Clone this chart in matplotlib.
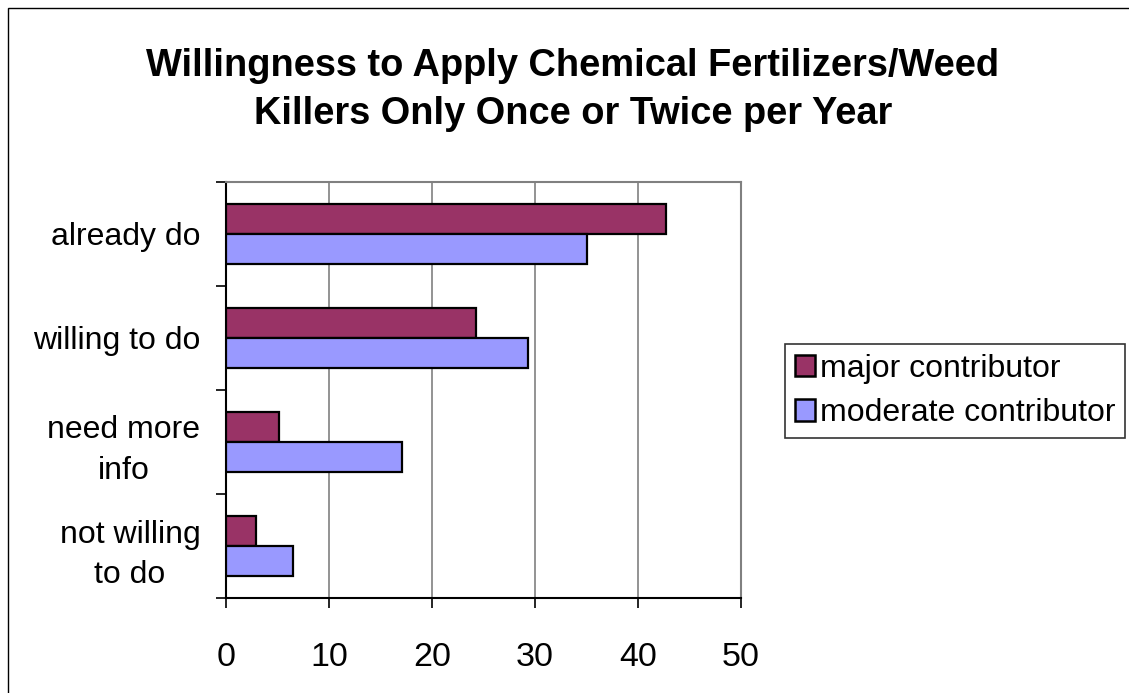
import matplotlib
matplotlib.use("Agg")
import matplotlib.pyplot as plt
import numpy as np
from matplotlib.patches import Rectangle

categories = ["already do", "willing to do", "need more\ninfo", "not willing\nto do"]
major = [42.7, 24.3, 5.1, 2.9]
moderate = [35.0, 29.3, 17.1, 6.5]
series_names = ["major contributor", "moderate contributor"]
colors = ["#993366", "#9999FF"]
xticks = [0, 10, 20, 30, 40, 50]
title = "Willingness to Apply Chemical Fertilizers/Weed\nKillers Only Once or Twice per Year"

plt.rcParams['font.family'] = ['Liberation Sans', 'DejaVu Sans']

W, H = 1129, 693
fig = plt.figure(figsize=(W / 100, H / 100), dpi=100)
fig.patch.set_facecolor("white")

# outer chart border
fig.patches.append(Rectangle((8 / W, -0.1), 1.2, (H - 8) / H + 0.1, transform=fig.transFigure,
                             fill=False, edgecolor="black", linewidth=1.0))

ax = fig.add_axes([226 / W, (H - 598) / H, 515 / W, 416 / H])
n = len(categories)
y = np.arange(n)
bh = 0.285
ax.barh(y - bh / 2, major, height=bh, color=colors[0], edgecolor="black", linewidth=1.6,
        label=series_names[0], zorder=3)
ax.barh(y + bh / 2, moderate, height=bh, color=colors[1], edgecolor="black", linewidth=1.6,
        label=series_names[1], zorder=3)

ax.set_ylim(n - 0.5, -0.5)
ax.set_xlim(0, 50)
ax.set_xticks(xticks)
ax.set_xticklabels([str(t) for t in xticks], fontsize=24.5)
ax.set_yticks(y)
ax.set_yticklabels(categories, fontsize=23, linespacing=1.45, multialignment="center")
ax.tick_params(axis="y", length=0, pad=18.5)
ax.set_yticks(np.arange(-0.5, n, 1.0), minor=True)
ax.tick_params(axis="y", which="minor", length=7, width=1.2, direction="out")
ax.tick_params(axis="x", length=7, width=1.2, direction="out", pad=25)
ax.xaxis.grid(True, color="#808080", linewidth=1.2, zorder=0)
ax.set_axisbelow(True)
for s in ["top", "right"]:
    ax.spines[s].set_color("#808080")
    ax.spines[s].set_linewidth(1.5)
for s in ["left", "bottom"]:
    ax.spines[s].set_color("black")
    ax.spines[s].set_linewidth(1.5)

fig.text(573 / W, 1 - 90 / H, title, ha="center", va="center", fontsize=27.4,
         fontweight="bold", linespacing=1.45)

leg = fig.legend(loc="center left", bbox_to_anchor=(785 / W, 1 - 391 / H), fontsize=23,
                 frameon=True, fancybox=False, handlelength=0.65, handleheight=0.65,
                 handletextpad=0.15, borderpad=0.3, labelspacing=0.45, borderaxespad=0)
leg.get_frame().set_edgecolor("black")
leg.get_frame().set_linewidth(1.2)
for h in leg.legend_handles:
    h.set_linewidth(1.8)

fig.savefig("out.png", dpi=100, facecolor="white")
